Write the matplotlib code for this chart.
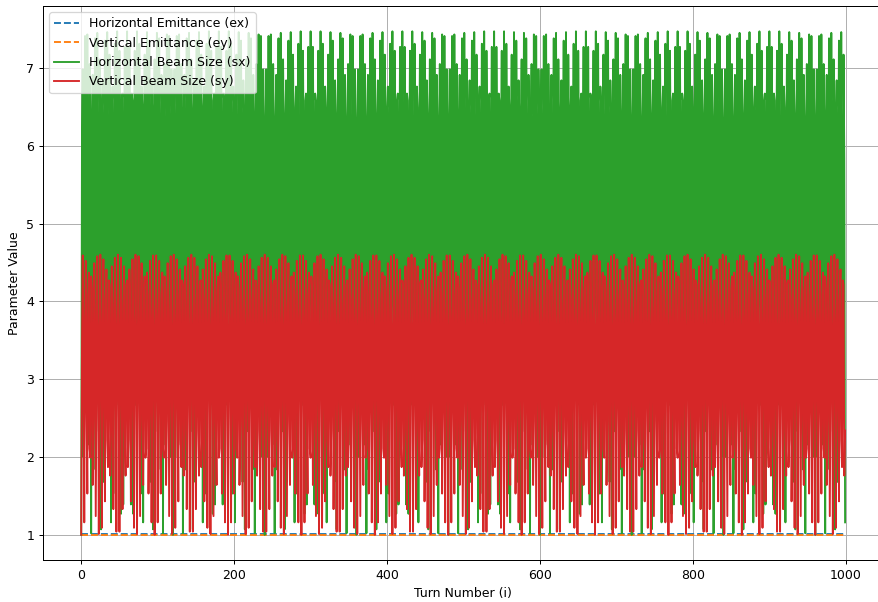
import matplotlib.pyplot as plt
import numpy as np

n_turns = 1000
turns = np.arange(n_turns)

# turn-by-turn beam sizes over one cycle of the betatron phase; the cycle
# repeats along the whole run
sx_cycle = [1.00, 6.18, 6.98, 2.00, 5.05, 7.41, 3.51, 3.67, 7.43, 4.91,
			2.16, 7.05, 6.07, 1.02, 6.29, 6.91, 1.84, 5.19, 7.38, 3.34,
			3.83, 7.45, 4.77, 2.33, 7.11, 5.96, 1.07, 6.39, 6.84, 1.68,
			5.33, 7.35, 3.17, 4.00, 7.46, 4.62, 2.50, 7.17, 5.84, 1.16,
			6.49, 6.76, 1.53, 5.46, 7.31, 3.01, 4.15, 7.47, 4.46, 2.67,
			7.22, 5.72, 1.27, 6.58, 6.67, 1.39, 5.59, 7.27, 2.84, 4.31,
			7.47, 4.31, 2.84, 7.27, 5.59, 1.39, 6.67, 6.58, 1.27, 5.72,
			7.22, 2.67, 4.46, 7.47, 4.15, 3.01, 7.31, 5.46, 1.53, 6.76,
			6.49, 1.16, 5.84, 7.17, 2.50, 4.62, 7.46, 4.00, 3.17, 7.35,
			5.33, 1.68, 6.84, 6.39, 1.07, 5.96, 7.11, 2.33, 4.77, 7.45,
			3.83, 3.34, 7.38, 5.19, 1.84, 6.91, 6.29, 1.02, 6.07, 7.05,
			2.16, 4.91, 7.43, 3.67, 3.51, 7.41, 5.05, 2.00, 6.98, 6.18]
sy_cycle = [1.00, 3.43, 4.59, 3.02, 1.16, 3.78, 4.52, 2.57, 1.53, 4.08,
			4.37, 2.11, 1.99, 4.32, 4.15, 1.64, 2.46, 4.49, 3.87, 1.24,
			2.91, 4.58, 3.52, 1.01, 3.33, 4.60, 3.13, 1.09, 3.70, 4.54,
			2.69, 1.43, 4.02, 4.41, 2.22, 1.87, 4.27, 4.21, 1.76, 2.34,
			4.45, 3.94, 1.33, 2.80, 4.56, 3.61, 1.04, 3.23, 4.60, 3.23,
			1.04, 3.61, 4.56, 2.80, 1.33, 3.94, 4.45, 2.34, 1.76, 4.21,
			4.27, 1.87, 2.22, 4.41, 4.02, 1.43, 2.69, 4.54, 3.70, 1.09,
			3.13, 4.60, 3.33, 1.01, 3.52, 4.58, 2.91, 1.24, 3.87, 4.49,
			2.46, 1.64, 4.15, 4.32, 1.99, 2.11, 4.37, 4.08, 1.53, 2.57,
			4.52, 3.78, 1.16, 3.02, 4.59, 3.43]
ex_value = 1.015
ey_value = 1.0

ex = np.full(n_turns, ex_value)
ey = np.full(n_turns, ey_value)
sx = np.resize(sx_cycle, n_turns)
sy = np.resize(sy_cycle, n_turns)

fig = plt.figure(figsize=(878 / 90, 602 / 90), dpi=90)
ax = fig.add_axes([0.049, 0.0698, 0.957, 0.920])
ax.plot(turns, ex, ls='--', label='Horizontal Emittance (ex)')
ax.plot(turns, ey, ls='--', label='Vertical Emittance (ey)')
ax.plot(turns, sx, label='Horizontal Beam Size (sx)')
ax.plot(turns, sy, label='Vertical Beam Size (sy)')
ax.set_xlabel('Turn Number (i)')
ax.set_ylabel('Parameter Value')
ax.legend(loc='upper left')
ax.grid(True)
fig.savefig('out.png', dpi=90)
